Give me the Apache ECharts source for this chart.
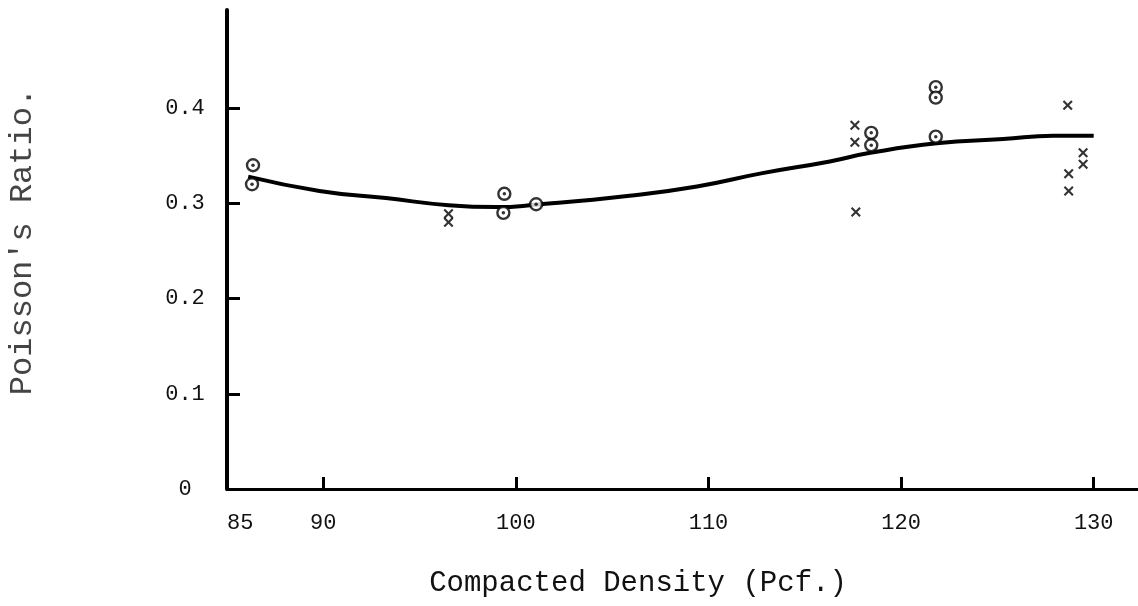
<!DOCTYPE html>
<html>
<head>
<meta charset="utf-8">
<script src="https://cdn.jsdelivr.net/npm/echarts@6/dist/echarts.min.js"></script>
<style>html,body{margin:0;padding:0;background:#fff}#c{width:1138px;height:606px}</style>
</head>
<body>
<div id="c"></div>
<script>
// Data
const xLabelValues = [85, 90, 100, 110, 120, 130];
const xTickValues = [90, 100, 110, 120, 130];
const yLabelValues = [0, 0.1, 0.2, 0.3, 0.4];
const yTickValues = [0.1, 0.2, 0.3, 0.4];

// circle-with-dot observations [density, ratio]
const circlePoints = [
  [86.35, 0.340], [86.3, 0.320],
  [99.4, 0.310], [99.35, 0.290],
  [101.05, 0.299],
  [118.45, 0.374], [118.45, 0.361],
  [121.8, 0.422], [121.8, 0.411], [121.8, 0.370]
];
// cross observations [density, ratio]
const crossPoints = [
  [96.5, 0.289], [96.5, 0.280],
  [117.6, 0.382], [117.6, 0.364], [117.65, 0.291],
  [128.65, 0.403], [128.7, 0.331], [128.7, 0.313],
  [129.45, 0.353], [129.45, 0.341]
];
// fitted curve [density, ratio]
const curvePoints = [
  [86.1, 0.328], [89.8, 0.313], [93.25, 0.3055], [96.5, 0.298],
  [99.0, 0.296], [101.0, 0.2985], [105.9, 0.308], [109.4, 0.3177],
  [112.8, 0.3317], [116.3, 0.344], [118.4, 0.353], [121.85, 0.363],
  [125.3, 0.3675], [127.9, 0.371], [130.0, 0.371]
];

const font = '"Liberation Mono", "DejaVu Sans Mono", monospace';
const chart = echarts.init(document.getElementById('c'), null, {renderer: 'canvas'});
const crossPath = 'path://M0,1.5L1.5,0L5,3.5L8.5,0L10,1.5L6.5,5L10,8.5L8.5,10L5,6.5L1.5,10L0,8.5L3.5,5Z';

chart.setOption({
  animation: false,
  backgroundColor: '#fff',
  grid: {left: 227, right: 0, top: 10, bottom: 117, outerBoundsMode: 'none', containLabel: false},
  xAxis: {
    type: 'value', min: 85, max: 132.3,
    splitLine: {show: false},
    axisLine: {show: true, onZero: false, lineStyle: {color: '#000', width: 3}},
    axisTick: {show: true, inside: true, length: 12, customValues: xTickValues, lineStyle: {color: '#000', width: 3}},
    axisLabel: {customValues: xLabelValues, margin: 23, color: '#111', fontFamily: font, fontSize: 22,
      formatter: v => String(v), alignMinLabel: 'left'},
    name: 'Compacted Density (Pcf.)', nameLocation: 'middle', nameGap: 80,
    nameTextStyle: {fontFamily: font, fontSize: 29, color: '#111', padding: [0, 89, 0, 0]}
  },
  yAxis: {
    type: 'value', min: 0, max: 0.503,
    splitLine: {show: false},
    axisLine: {show: true, lineStyle: {color: '#000', width: 4}},
    axisTick: {show: true, inside: true, length: 13, customValues: yTickValues, lineStyle: {color: '#000', width: 3}},
    axisLabel: {customValues: yLabelValues, margin: 42, align: 'center', color: '#111', fontFamily: font, fontSize: 22,
      formatter: v => v === 0 ? '0' : v.toFixed(1)},
    name: "Poisson's Ratio.", nameLocation: 'middle', nameGap: 188,
    nameTextStyle: {fontFamily: font, fontSize: 32, color: '#444', padding: [0, 0, 0, 16]}
  },
  series: [
    {type: 'line', data: curvePoints, smooth: true, symbol: 'none',
      lineStyle: {color: '#000', width: 4}, z: 2},
    {type: 'scatter', data: circlePoints, symbol: 'circle', symbolSize: 12,
      itemStyle: {color: '#fff', borderColor: '#000', borderWidth: 2.4}, z: 3},
    {type: 'scatter', data: circlePoints, symbol: 'circle', symbolSize: 3.5,
      itemStyle: {color: '#000'}, z: 4},
    {type: 'scatter', data: crossPoints, symbol: crossPath, symbolSize: 10,
      itemStyle: {color: '#000'}, z: 3}
  ]
});
</script>
</body>
</html>
